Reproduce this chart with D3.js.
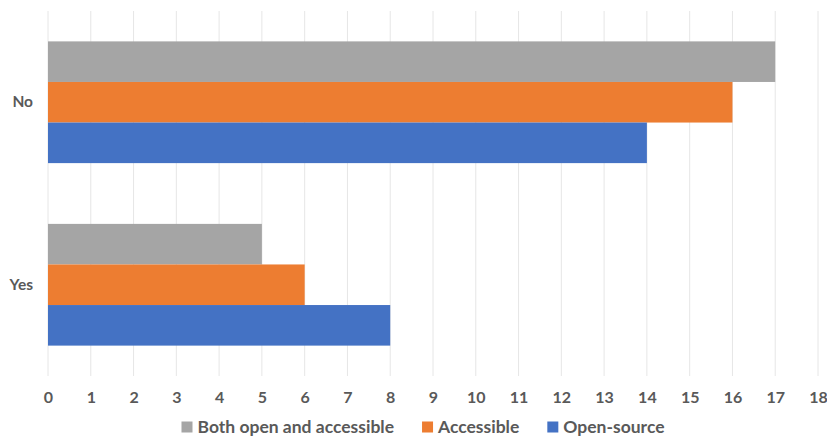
<!DOCTYPE html>
<html>
<head>
<meta charset="utf-8">
<script src="https://cdn.jsdelivr.net/npm/d3@7"></script>
<style>
  html, body { margin: 0; padding: 0; background: #fff; }
  svg { display: block; }
  text { font-family: Lato, "Open Sans", sans-serif; font-weight: 700; fill: #595959; }
</style>
</head>
<body>
<svg id="chart" width="827" height="437"></svg>
<script>
// Survey answers, top to bottom
const categories = ["No", "Yes"];
// Series in drawing order within each group (top to bottom)
const seriesNames = ["Both open and accessible", "Accessible", "Open-source"];
const bothValues = [17, 5];
const accessibleValues = [16, 6];
const openSourceValues = [14, 8];
const xTicks = [0, 1, 2, 3, 4, 5, 6, 7, 8, 9, 10, 11, 12, 13, 14, 15, 16, 17, 18];
// Legend order, left to right
const legendOrder = ["Both open and accessible", "Accessible", "Open-source"];

const colors = {
  "Both open and accessible": "#A5A5A5",
  "Accessible": "#ED7D31",
  "Open-source": "#4472C4"
};
const valuesBySeries = {
  "Both open and accessible": bothValues,
  "Accessible": accessibleValues,
  "Open-source": openSourceValues
};

const svg = d3.select("#chart");
const plot = { left: 48, right: 818, top: 11, bottom: 376 };

const x = d3.scaleLinear().domain([0, 18]).range([plot.left, plot.right]);
const y0 = d3.scaleBand().domain(categories).range([plot.top, plot.bottom])
  .paddingInner(0.333).paddingOuter(0.1665);
const y1 = d3.scaleBand().domain(seriesNames).range([0, y0.bandwidth()]);

// Vertical gridlines
svg.append("g")
  .selectAll("line")
  .data(xTicks)
  .join("line")
  .attr("x1", d => x(d)).attr("x2", d => x(d))
  .attr("y1", plot.top).attr("y2", plot.bottom)
  .attr("stroke", "#E6E6E6").attr("stroke-width", 1);

// Bars
const groups = svg.append("g").selectAll("g")
  .data(categories)
  .join("g")
  .attr("transform", d => `translate(0,${y0(d)})`);

groups.selectAll("rect")
  .data((c, i) => seriesNames.map(s => ({ s, v: valuesBySeries[s][i] })))
  .join("rect")
  .attr("x", x(0))
  .attr("y", d => y1(d.s))
  .attr("width", d => x(d.v) - x(0))
  .attr("height", y1.bandwidth())
  .attr("fill", d => colors[d.s]);

// X axis tick labels
const xAxis = d3.axisBottom(x).tickValues(xTicks).tickSize(0).tickPadding(0).tickFormat(d3.format("d"));
const xg = svg.append("g").attr("transform", `translate(0,${plot.bottom})`).call(xAxis);
xg.select(".domain").remove();
xg.selectAll("text")
  .attr("y", 21).attr("dy", "0.35em")
  .style("font-size", "16px").style("font-family", "Lato, sans-serif").style("fill", "#595959");

// Category labels
const yAxis = d3.axisLeft(y0).tickSize(0).tickPadding(0);
const yg = svg.append("g").attr("transform", `translate(${plot.left - 15},0)`).call(yAxis);
yg.select(".domain").remove();
yg.selectAll("text")
  .style("font-size", "15.5px").style("font-family", "Lato, sans-serif").style("fill", "#595959");

// Legend
const legend = svg.append("g");
const items = legend.selectAll("g").data(legendOrder).join("g");
items.append("rect").attr("width", 11).attr("height", 11).attr("y", -5.5)
  .attr("fill", d => colors[d]);
items.append("text").attr("x", 16).attr("dy", "0.35em")
  .style("font-size", "17.5px").text(d => d);
let offset = 0;
const gap = 28;
items.each(function () {
  const g = d3.select(this);
  const w = 16 + g.select("text").node().getComputedTextLength();
  g.attr("transform", `translate(${offset},0)`);
  offset += w + gap;
});
const total = offset - gap;
legend.attr("transform", `translate(${423 - total / 2},427)`);
</script>
</body>
</html>
